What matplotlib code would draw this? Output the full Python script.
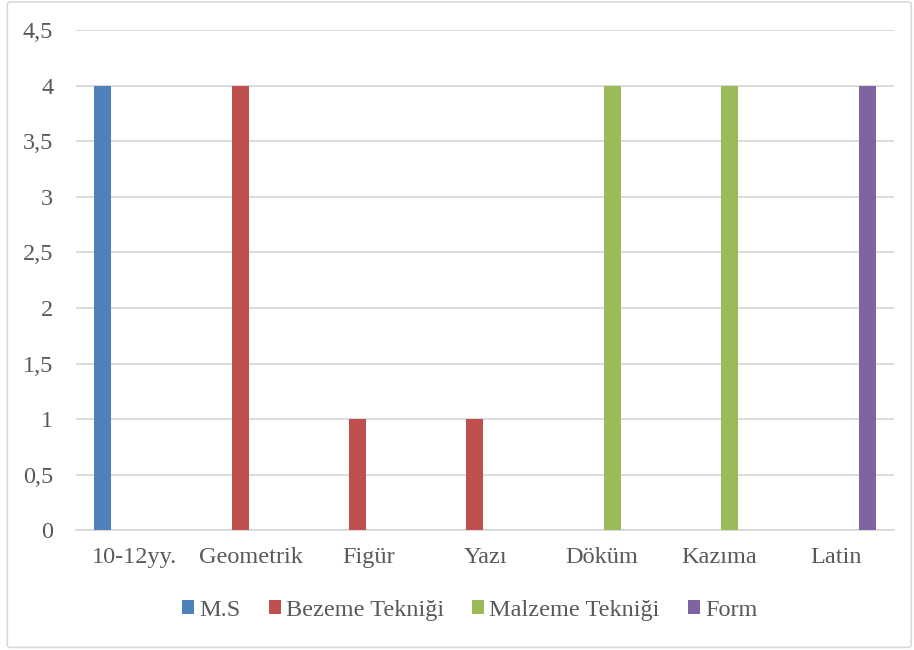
import matplotlib
matplotlib.use("Agg")
import matplotlib.pyplot as plt
import numpy as np
from matplotlib.patches import FancyBboxPatch

# --- Daten -----------------------------------------------------------------
categories = ["10-12yy.", "Geometrik", "Figür", "Yazı", "Döküm", "Kazıma", "Latin"]
series_names = ["M.S", "Bezeme Tekniği", "Malzeme Tekniği", "Form"]
ms_vals = [4, 0, 0, 0, 0, 0, 0]
bezeme_vals = [0, 4, 1, 1, 0, 0, 0]
malzeme_vals = [0, 0, 0, 0, 4, 4, 0]
form_vals = [0, 0, 0, 0, 0, 0, 4]
colors = ["#4f81bd", "#c0504d", "#9bbb59", "#8064a2"]
y_ticks = [0, 0.5, 1, 1.5, 2, 2.5, 3, 3.5, 4, 4.5]

plt.rcParams["font.family"] = ["Liberation Serif", "DejaVu Serif"]
text_color = "#595959"
grid_color = "#d9d9d9"

fig = plt.figure(figsize=(9.14, 6.5), dpi=100)
ax = fig.add_axes([0.0832, 0.1846, 0.8950, 0.7685])

# Rahmen um die ganze Figur
fig.patches.append(FancyBboxPatch((0.008, 0.004), 0.989, 0.993,
                                  boxstyle="round,pad=0,rounding_size=0.004",
                                  transform=fig.transFigure, fill=False,
                                  edgecolor=grid_color, linewidth=1.2))

x = np.arange(len(categories))
step = 0.182
width = 0.145
for i, (vals, name, c) in enumerate(zip([ms_vals, bezeme_vals, malzeme_vals, form_vals],
                                        series_names, colors)):
    ax.bar(x + (i - 1.5) * step, vals, width=width, color=c, label=name, zorder=3)

ax.set_xlim(-0.5, len(categories) - 0.5)
ax.set_ylim(0, 4.5)
ax.set_yticks(y_ticks)
ax.set_yticklabels([f"{v:g}".replace(".", ",") for v in y_ticks])
ax.set_xticks(x)
ax.set_xticklabels(categories)
ax.tick_params(axis="both", length=0, labelsize=17.5, labelcolor=text_color)
ax.tick_params(axis="y", pad=16.5)
ax.tick_params(axis="x", pad=12)
ax.grid(axis="y", color=grid_color, linewidth=1.3, zorder=0)
for side in ["top", "right", "left"]:
    ax.spines[side].set_visible(False)
ax.spines["bottom"].set_color(grid_color)
ax.spines["bottom"].set_linewidth(1.3)

fig.legend(loc="center", bbox_to_anchor=(0.514, 0.0615), ncol=4, frameon=False,
           fontsize=17.5, labelcolor=text_color, handlelength=0.5, handleheight=0.5,
           handletextpad=0.2, columnspacing=1.17)

fig.savefig("out.png", dpi=100)
